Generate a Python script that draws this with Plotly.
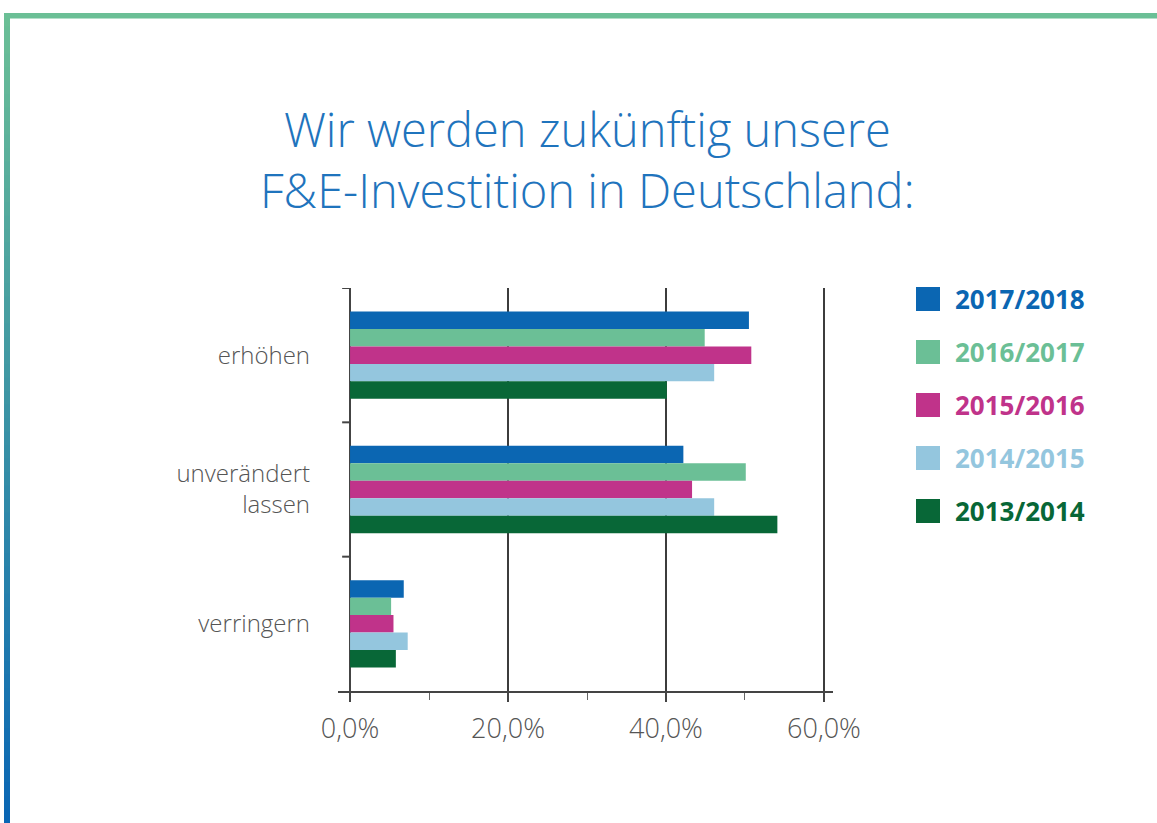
import plotly.graph_objects as go

categories = ["erhöhen", "unverändert<br>lassen", "verringern"]
series_names = ["2017/2018", "2016/2017", "2015/2016", "2014/2015", "2013/2014"]
v_2017_2018 = [50.5, 42.2, 6.8]
v_2016_2017 = [44.9, 50.1, 5.2]
v_2015_2016 = [50.8, 43.3, 5.5]
v_2014_2015 = [46.1, 46.1, 7.3]
v_2013_2014 = [40.1, 54.1, 5.8]
series_values = [v_2017_2018, v_2016_2017, v_2015_2016, v_2014_2015, v_2013_2014]
x_tick_vals = [0, 20, 40, 60]
x_tick_text = ["0,0%", "20,0%", "40,0%", "60,0%"]
title_text = "Wir werden zukünftig unsere<br>F&E-Investition in Deutschland:"

colors = ["#0b66b2", "#6bbf96", "#c0338a", "#94c6de", "#086737"]

W_FIG, H_FIG = 1157, 823
L, R, T, B = 338, 833, 288, 691
PW, PH = R - L, B - T


def px(x):
    return (x - L) / PW


def py(y):
    return (B - y) / PH


FONT = "Open Sans"

fig = go.Figure()
for name, vals, col in zip(series_names, series_values, colors):
    fig.add_trace(go.Bar(
        y=categories, x=vals, name=name, orientation="h",
        marker=dict(color=col, line=dict(width=0)),
        showlegend=False, hoverinfo="skip",
    ))

shapes = []
# y-axis boundary ticks
for yv in [-0.5, 0.5, 1.5]:
    shapes.append(dict(type="line", xref="x", yref="y", x0=-1.0, x1=0, y0=yv, y1=yv,
                       line=dict(color="#444444", width=2)))

# left gradient line (green -> blue)
c0 = (0x6b, 0xbf, 0x96)
c1 = (0x0a, 0x66, 0xb4)
n = 60
y_start, y_end = 13, 823
for i in range(n):
    t = i / (n - 1)
    c = tuple(int(round(c0[k] + (c1[k] - c0[k]) * t)) for k in range(3))
    ya = y_start + (y_end - y_start) * i / n
    yb = y_start + (y_end - y_start) * (i + 1) / n + 1
    shapes.append(dict(type="rect", xref="paper", yref="paper", x0=px(4), x1=px(10),
                       y0=py(ya), y1=py(yb), fillcolor="rgb(%d,%d,%d)" % c,
                       line=dict(width=0)))
# frame: top green line
shapes.append(dict(type="rect", xref="paper", yref="paper", x0=px(4), x1=px(1157),
                   y0=py(13), y1=py(18.5), fillcolor="#6bbf96", line=dict(width=0)))

annotations = [dict(
    text=title_text, xref="paper", yref="paper", x=px(587), y=py(160),
    xanchor="center", yanchor="middle", showarrow=False, align="center",
    font=dict(family=FONT, size=47, color="#1f74bd", weight=300),
)]

# manual legend
row_y = [299, 352, 405, 458, 511]
for name, col, ry in zip(series_names, colors, row_y):
    shapes.append(dict(type="rect", xref="paper", yref="paper",
                       x0=px(916), x1=px(940), y0=py(ry - 12), y1=py(ry + 12),
                       fillcolor=col, line=dict(width=0)))
    annotations.append(dict(text="<b>%s</b>" % name, xref="paper", yref="paper",
                            x=px(953), y=py(ry), xanchor="left", yanchor="middle",
                            showarrow=False,
                            font=dict(family=FONT, size=26, color=col)))

fig.update_layout(
    width=W_FIG, height=H_FIG,
    margin=dict(l=L, r=W_FIG - R, t=T, b=H_FIG - B, pad=0),
    paper_bgcolor="white", plot_bgcolor="white",
    barmode="group", bargap=0.35, bargroupgap=0,
    shapes=shapes, annotations=annotations,
    font=dict(family=FONT),
    hovermode=False,
    xaxis=dict(
        range=[-12 / 7.875, 60 + 9 / 7.875],
        tickvals=x_tick_vals, ticktext=x_tick_text,
        showgrid=True, gridcolor="#3c3c3c", gridwidth=2,
        zeroline=True, zerolinecolor="#444444", zerolinewidth=2,
        showline=True, linecolor="#444444", linewidth=2,
        ticks="outside", ticklen=9, tickwidth=2, tickcolor="#444444",
        minor=dict(tickvals=[10, 30, 50], ticks="outside", ticklen=7, tickwidth=1,
                   tickcolor="#666666", showgrid=False),
        tickfont=dict(family=FONT, size=27, color="#555555", weight=300),
        ticklabelstandoff=4,
        fixedrange=True,
    ),
    yaxis=dict(
        categoryorder="array", categoryarray=categories,
        range=[2.5, -0.5],
        showgrid=False, zeroline=False, showline=False, ticks="",
        tickfont=dict(family=FONT, size=24, color="#555555", weight=300),
        ticklabelstandoff=27,
        fixedrange=True,
    ),
)

fig.write_html("out.html", config={"displayModeBar": False},
               post_script=["document.body.style.margin='0px';"])
